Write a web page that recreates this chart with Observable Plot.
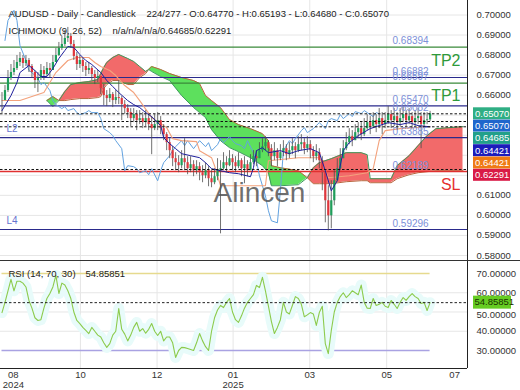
<!DOCTYPE html>
<html><head><meta charset="utf-8">
<script src="https://cdn.jsdelivr.net/npm/d3@7"></script>
<script src="https://cdn.jsdelivr.net/npm/@observablehq/plot@0.6"></script>
<style>
body{margin:0;background:#fff;}
#wrap{position:relative;width:520px;height:390px;overflow:hidden;background:#fff;}
#main{position:absolute;left:0;top:0;}
#rsi{position:absolute;left:0;top:260px;}
#sep{position:absolute;left:0;top:260px;width:520px;height:1px;background:#333;}
</style></head><body>
<div id="wrap"><div id="main"></div><div id="rsi"></div><div id="sep"></div></div>
<script>
// ---------------- DATA ----------------
const closes = [0.6573,0.6623,0.6683,0.6713,0.6733,0.6763,0.6783,0.6758,0.6773,0.6743,
0.6713,0.6673,0.6683,0.6723,0.6703,0.6733,0.6723,0.6763,0.6798,0.6833,
0.6853,0.6883,0.6893,0.6853,0.6793,0.6753,0.6773,0.6743,0.6723,0.6733,
0.6703,0.6683,0.6693,0.6633,0.6598,0.6583,0.6603,0.6573,0.6588,0.6583,
0.6553,0.6533,0.6513,0.6483,0.6503,0.6473,0.6483,0.6463,0.6483,0.6453,
0.6433,0.6453,0.6473,0.6433,0.6403,0.6363,0.6323,0.6283,0.6263,0.6248,
0.6283,0.6263,0.6233,0.6253,0.6223,0.6243,0.6213,0.6198,0.6223,0.6183,
0.6163,0.6193,0.6223,0.6233,0.6263,0.6248,0.6283,0.6263,0.6243,0.6273,
0.6233,0.6253,0.6223,0.6263,0.6293,0.6283,0.6323,0.6343,0.6363,0.6333,
0.6293,0.6323,0.6283,0.6313,0.6333,0.6303,0.6323,0.6343,0.6323,0.6353,
0.6363,0.6333,0.6353,0.6323,0.6293,0.6313,0.6273,0.6213,0.6073,0.5998,
0.6073,0.6173,0.6233,0.6283,0.6333,0.6363,0.6393,0.6373,0.6413,0.6433,
0.6403,0.6433,0.6463,0.6443,0.6473,0.6453,0.6483,0.6453,0.6473,0.6503,
0.6473,0.6493,0.6463,0.6483,0.6503,0.6473,0.6493,0.6463,0.6483,0.6493,
0.6453,0.6473,0.6477,0.65070];
const highs = [0.6613,0.6648,0.6723,0.6753,0.6773,0.6798,0.6813,0.6798,0.6798,0.6783,
0.6753,0.6723,0.6713,0.6753,0.6743,0.6763,0.6758,0.6798,0.6833,0.6863,
0.6893,0.6923,0.6938,0.6908,0.6873,0.6813,0.6798,0.6783,0.6763,0.6763,
0.6743,0.6723,0.6723,0.6693,0.6653,0.6623,0.6633,0.6613,0.6623,0.6673,
0.6593,0.6573,0.6553,0.6533,0.6533,0.6523,0.6523,0.6513,0.6523,0.6503,
0.6493,0.6503,0.6513,0.6493,0.6453,0.6413,0.6383,0.6343,0.6313,0.6298,
0.6323,0.6383,0.6293,0.6293,0.6273,0.6273,0.6263,0.6248,0.6263,0.6243,
0.6223,0.6233,0.6283,0.6273,0.6313,0.6293,0.6323,0.6303,0.6293,0.6313,
0.6283,0.6293,0.6273,0.6303,0.6323,0.6323,0.6363,0.6383,0.6393,0.6373,
0.6353,0.6363,0.6333,0.6353,0.6373,0.6353,0.6363,0.6383,0.6363,0.6393,
0.6403,0.6383,0.6393,0.6373,0.6343,0.6353,0.6333,0.6293,0.6223,0.6148,
0.6173,0.6223,0.6283,0.6333,0.6373,0.6413,0.6433,0.6423,0.6453,0.6463,
0.6463,0.6483,0.6503,0.6493,0.6513,0.6503,0.6533,0.6513,0.6513,0.6543,
0.6523,0.6533,0.6513,0.6533,0.6543,0.6523,0.6533,0.6513,0.6523,0.6533,
0.6513,0.6513,0.6513,0.65193];
const lows = [0.6508,0.6573,0.6613,0.6673,0.6698,0.6723,0.6743,0.6733,0.6743,0.6713,
0.6683,0.6633,0.6613,0.6673,0.6673,0.6693,0.6683,0.6723,0.6763,0.6793,
0.6823,0.6843,0.6863,0.6833,0.6773,0.6723,0.6733,0.6713,0.6693,0.6703,
0.6673,0.6653,0.6663,0.6603,0.6548,0.6543,0.6563,0.6538,0.6553,0.6553,
0.6473,0.6503,0.6483,0.6443,0.6463,0.6423,0.6453,0.6433,0.6443,0.6423,
0.6303,0.6423,0.6423,0.6403,0.6373,0.6323,0.6283,0.6243,0.6223,0.6213,
0.6233,0.6223,0.6203,0.6213,0.6193,0.6203,0.6173,0.6163,0.6183,0.6143,
0.6138,0.6153,0.6173,0.5908,0.6223,0.6213,0.6243,0.6223,0.6213,0.6233,
0.6193,0.6158,0.6193,0.6233,0.6253,0.6243,0.6283,0.6313,0.6323,0.6293,
0.6243,0.6273,0.6243,0.6273,0.6293,0.6273,0.6283,0.6303,0.6283,0.6313,
0.6323,0.6303,0.6313,0.6283,0.6263,0.6273,0.6233,0.6123,0.5963,0.5923,
0.5933,0.6048,0.6173,0.6223,0.6283,0.6323,0.6353,0.6343,0.6373,0.6383,
0.6373,0.6393,0.6423,0.6403,0.6433,0.6413,0.6433,0.6403,0.6433,0.6453,
0.6433,0.6443,0.6423,0.6443,0.6463,0.6443,0.6453,0.6433,0.6443,0.6453,
0.6333,0.6433,0.6453,0.64680];

// Ichimoku lines (bar index / value)
const tenkanBars = [0,3,5,6,9,11,13,15,17,19,21,22,24,26,28,30,33,35,37,39,42,44,46,48,50,53,54,56,58,60,63,66,68,70,73,76,79,83,84,85,87,89,93,96,99,103,106,108,110,112,114,116,119,123,126,129,133,136,139,143];
const tenkan = [0.6523,0.6598,0.6663,0.6713,0.6748,0.6723,0.6693,0.6693,0.6733,0.6783,0.6823,0.6843,0.6838,0.6803,0.6773,0.6753,0.6713,0.6673,0.6643,0.6613,0.6573,0.6553,0.6538,0.6513,0.6493,0.6448,0.6388,0.6358,0.6333,0.6308,0.6298,0.6288,0.6263,0.6233,0.6223,0.6213,0.6208,0.6193,0.6238,0.6323,0.6338,0.6313,0.6323,0.6308,0.6323,0.6333,0.6313,0.6223,0.6123,0.6173,0.6323,0.6363,0.6398,0.6433,0.6448,0.6463,0.6453,0.6463,0.6448,0.64421];
const kijunBars = [0,6,11,14,16,18,20,22,25,29,31,33,36,38,41,44,46,50,53,55,57,60,65,66,70,71,73,88,89,99,106,108,109,116,122,124,126,128,133,143];
const kijun = [0.6573,0.6573,0.6598,0.6613,0.6663,0.6713,0.6743,0.6773,0.6788,0.6788,0.6763,0.6743,0.6723,0.6698,0.6648,0.6613,0.6573,0.6488,0.6458,0.6438,0.6383,0.6373,0.6368,0.6323,0.6288,0.6248,0.6148,0.6148,0.6273,0.6288,0.6288,0.6223,0.6188,0.6198,0.6213,0.6233,0.6373,0.6423,0.6433,0.64421];
const chikouBars = [1,2,4,5,6,8,9,10,12,13,14,16,17,18,20,21,22,24,25,26,28,29,30,32,33,34,36,37,38,40,41,42,44,45,46,48,49,50,52,53,54,56,57,58,60,61,62,64,65,66,68,69,70,72,73,74,76,77,78,80,81,82,84,85,86,88,89,90,92,93,94,96,97,98,100,101,102,104,105,106,108,109,110,112,113,114,116,117,118,120,121,122,124,125,126];
const chikou = [0.6873,0.6973,0.7023,0.6973,0.6848,0.6773,0.6723,0.6713,0.6683,0.6653,0.6663,0.6623,0.6573,0.6553,0.6533,0.6543,0.6523,0.6533,0.6513,0.6503,0.6513,0.6523,0.6513,0.6513,0.6483,0.6433,0.6413,0.6398,0.6373,0.6333,0.6223,0.6248,0.6243,0.6233,0.6213,0.6223,0.6203,0.6233,0.6173,0.6223,0.6263,0.6298,0.6323,0.6343,0.6373,0.6348,0.6373,0.6333,0.6353,0.6373,0.6343,0.6363,0.6323,0.6353,0.6383,0.6363,0.6393,0.6373,0.6358,0.6348,0.6333,0.6373,0.6313,0.6273,0.6198,0.6098,0.6023,0.5973,0.5963,0.6123,0.6323,0.6373,0.6358,0.6383,0.6423,0.6438,0.6413,0.6433,0.6448,0.6463,0.6433,0.6473,0.6483,0.6473,0.6503,0.6483,0.6508,0.6493,0.6518,0.6508,0.6523,0.6513,0.6493,0.6513,0.65070];
const cloudBars = [15,17,19,21,23,26,29,32,33,34,35,37,39,42,44,46,48,49,50,53,56,60,64,66,68,70,73,76,79,83,87,89,90,93,99,102,104,106,110,115,120,122,123,130,132,136,139,142,145,154];
const spanA = [0.6573,0.6593,0.6573,0.6573,0.6578,0.6583,0.6583,0.6588,0.6593,0.6633,0.6653,0.6673,0.6673,0.6653,0.6653,0.6688,0.6708,0.6728,0.6743,0.6728,0.6708,0.6688,0.6673,0.6658,0.6598,0.6573,0.6538,0.6478,0.6453,0.6433,0.6408,0.6373,0.6248,0.6238,0.6223,0.6188,0.6158,0.6158,0.6158,0.6168,0.6173,0.6173,0.6163,0.6163,0.6183,0.6203,0.6213,0.6218,0.6223,0.6223];
const spanB = [0.6573,0.6543,0.6573,0.6618,0.6653,0.6663,0.6668,0.6678,0.6708,0.6738,0.6763,0.6788,0.6803,0.6783,0.6768,0.6743,0.6718,0.6728,0.6718,0.6693,0.6673,0.6598,0.6538,0.6513,0.6488,0.6428,0.6373,0.6338,0.6318,0.6288,0.6248,0.6213,0.6148,0.6148,0.6153,0.6188,0.6238,0.6263,0.6283,0.6313,0.6313,0.6303,0.6183,0.6183,0.6248,0.6298,0.6348,0.6398,0.6433,0.6443];

// Horizontal levels
const targetLevels = [0.68394, 0.66597];
const pivotLevels = [0.66882, 0.65470, 0.63885, 0.59296];
const stopLevels = [0.62189];
const currentLevels = [0.65070, 0.64685, 0.64421, 0.62291];
const levelLabelValues = [0.68394, 0.66882, 0.66597, 0.65470, 0.65082, 0.63885, 0.62189, 0.59296];
const tradeLabels = ["TP2", "TP1", "SL"];
const tradeLabelLevels = [0.66882, 0.65470, 0.62189];
const sideLabels = ["L2", "L4"];
const sideLabelLevels = [0.63885, 0.59296];
const axisBoxValues = [0.65070, 0.65070, 0.64685, 0.64421, 0.64421, 0.62291];

// RSI (per bar)
const rsiValues = [49.7,55,61,67,61,66,66,65,63,56,
52,47,45.6,46,52,57,59.6,63,69,59.6,
65,64,61,57,50,45.6,44,42,40.4,38.8,
42,40,38,37,34,31.6,33.6,38,40,51.8,
41,38.5,35,38,42,44.6,40,41.4,39,41,
44,40,37.8,40,35,37,37,34,26.4,30,
31.6,31.5,31,30.5,30,34,38.8,35,32,30,
40,47,51,53.4,52.3,55,57,50,46,44.6,
48,52,55,57,59,63.8,62.7,68,61,53,
45,38.8,42,46,55,50,49,53.4,58,57,
54,47.5,48.5,49.7,49,43,49.7,53,33.6,28.4,
40.4,50,55,58,60,57.5,59,61,60,59,
64,55,52,51.8,57,53.4,54,55,53,52.3,
56,54,51.8,55,57.5,56,58,59.6,58,57,
54.4,55,50.8,54.85851];
const rsiLevels = [70, 30];
const rsiTicks = [30, 40, 50, 60, 70];

// Axis ticks (price labels 0.62–0.65 are hidden behind the value boxes)
const priceGrid = [0.58,0.59,0.60,0.61,0.62,0.63,0.64,0.65,0.66,0.67,0.68,0.69,0.70];
const priceLabels = [0.58,0.59,0.60,0.61,0.66,0.67,0.68,0.69,0.70];
const monthTickBars = [3.8, 26.2, 51.8, 77.2, 102.8, 128.5, 151.2];
const monthLabels = ["08","10","12","01","03","05","07"];
const yearTickBars = [3.8, 77.2];
const yearLabels = ["2024","2025"];

const titleLine1 = ["AUDUSD - Daily - Candlestick", "224/277 - O:0.64770 - H:0.65193 - L:0.64680 - C:0.65070"];
const titleLine2 = ["ICHIMOKU (9, 26, 52)", "n/a/n/a/n/a/0.64685/0.62291"];
const rsiTitle = ["RSI (14, 70, 30)", "54.85851"];
const watermark = "Alincen";

// ---------------- BUILD ----------------
const FONT = '"Liberation Sans", Arial, Helvetica, sans-serif';
const bars = closes.map((c, i) => ({i, o: i ? closes[i - 1] : c, h: highs[i], l: lows[i], c}));
const pairs = (xs, vs) => xs.map((b, k) => ({b, v: vs[k]}));
const cloud = cloudBars.map((b, k) => ({b, a: spanA[k], s: spanB[k]}));
const xDomain = [-0.5, 155.5];
const lastBar = closes.length - 1;
const gridBars = monthTickBars.slice(1, -1);
const tradeOffsets = [-17, -10, 13];
const tradeColors = ["#2e9a3a", "#2e9a3a", "#e53030"];
const txt = (s, dx, dy, extra = {}) => Plot.text([s], {text: d => d, frameAnchor: "top-left", dx, dy,
  textAnchor: "start", lineAnchor: "middle", fill: "#222", fontSize: 9.5, ...extra});

const main = Plot.plot({
  width: 520, height: 260,
  marginLeft: 0, marginRight: 53, marginTop: 0, marginBottom: 0,
  style: {fontFamily: FONT, fontSize: "9.5px", background: "white", color: "#333"},
  x: {domain: xDomain, axis: null},
  y: {domain: [0.57749, 0.70724], axis: null},
  marks: [
    Plot.gridY(priceGrid, {stroke: "#e6e6e6", strokeOpacity: 1}),
    Plot.gridX(gridBars, {stroke: "#e6e6e6", strokeOpacity: 1}),
    Plot.axisY(priceLabels, {anchor: "right", tickSize: 0, tickPadding: 9, textAnchor: "start", label: null,
      tickFormat: d => d.toFixed(5), fontSize: 9.5, fill: "#333"}),
    Plot.areaY(cloud, {x: "b", y1: "s", y2: d => Math.max(d.a, d.s), fill: "#5de05d"}),
    Plot.areaY(cloud, {x: "b", y1: "a", y2: d => Math.max(d.a, d.s), fill: "#f26a6a"}),
    Plot.line(cloud, {x: "b", y: "a", stroke: "#b8643c", strokeWidth: 1}),
    Plot.line(cloud, {x: "b", y: "s", stroke: "#3c9a5c", strokeWidth: 1}),
    Plot.ruleY(targetLevels, {stroke: "#3a8a3a", strokeWidth: 1.2}),
    Plot.ruleY(pivotLevels, {stroke: "#2a2a8c", strokeWidth: 1.2}),
    Plot.ruleY(stopLevels, {stroke: "#e03030", strokeWidth: 1.4}),
    Plot.line(pairs(chikouBars, chikou), {x: "b", y: "v", stroke: "#62a2e0", strokeWidth: 1}),
    Plot.line(pairs(kijunBars, kijun), {x: "b", y: "v", stroke: "#f3a27c", strokeWidth: 1.1}),
    Plot.ruleX(bars, {x: "i", y1: "l", y2: "h", stroke: "#4d4d4d", strokeWidth: 0.8}),
    Plot.ruleX(bars, {x: "i", y1: "o", y2: "c", stroke: d => d.c >= d.o ? "#1f9e5a" : "#e0363c", strokeWidth: 2.2}),
    Plot.line(pairs(tenkanBars, tenkan), {x: "b", y: "v", stroke: "#1e1e9c", strokeWidth: 1}),
    Plot.ruleY(currentLevels, {stroke: "#111", strokeDasharray: "2.5,2", strokeWidth: 1}),
    Plot.text(levelLabelValues, {y: d => d, text: d => d.toFixed(5), frameAnchor: "right", dx: -75, dy: -6,
      textAnchor: "start", lineAnchor: "middle", fill: "#7c90d8", fontSize: 10}),
    ...tradeLabels.map((t, k) => Plot.text([t], {y: () => tradeLabelLevels[k], text: d => d, frameAnchor: "right",
      dx: -7, dy: tradeOffsets[k], textAnchor: "end", lineAnchor: "middle", fill: tradeColors[k], fontSize: 16})),
    Plot.text(sideLabels, {y: (d, k) => sideLabelLevels[k], text: d => d, frameAnchor: "left", dx: 6, dy: -9,
      textAnchor: "start", lineAnchor: "middle", fill: "#6473cf", fontSize: 10}),
    Plot.text([watermark], {text: d => d, frameAnchor: "top-left", dx: 259, dy: 193, textAnchor: "middle",
      lineAnchor: "middle", fill: "#555", fillOpacity: 0.85, fontSize: 28}),
    txt(titleLine1[0], 8, 13), txt(titleLine1[1], 146, 13),
    txt(titleLine2[0], 8, 30), txt(titleLine2[1], 112, 30),
    Plot.ruleX([xDomain[1]], {stroke: "#222", strokeWidth: 1})
  ]
});

// right-axis value boxes (stacked to avoid overlap)
{
  const ys = main.scale("y"), xr = 520 - 53;
  const boxColors = ["#2fae84", "#1f66cc", "#22a08a", "#1c1cbb", "#ef7a14", "#d91a46"];
  const g = d3.select(main).append("g").attr("font-family", FONT).attr("font-size", 9.5).attr("text-anchor", "start");
  let prev = -Infinity;
  axisBoxValues.forEach((v, k) => {
    const y = Math.max(ys.apply(v), prev + 12.3); prev = y;
    g.append("rect").attr("x", xr + 6).attr("y", y - 6).attr("width", 37).attr("height", 12).attr("fill", boxColors[k]);
    g.append("text").attr("x", xr + 8).attr("y", y).attr("dy", "0.35em").attr("text-anchor", "start").attr("fill", "#fff").text(v.toFixed(5));
  });
}
document.getElementById("main").appendChild(main);

// ---------------- RSI PANEL ----------------
const rsiData = rsiValues.map((v, i) => ({i, v}));
const rsiLast = rsiValues[rsiValues.length - 1];
const rsi = Plot.plot({
  width: 520, height: 130,
  marginLeft: 0, marginRight: 53, marginTop: 0, marginBottom: 22,
  style: {fontFamily: FONT, fontSize: "9.5px", background: "white", color: "#333"},
  x: {domain: xDomain, axis: null},
  y: {domain: [20.65, 76.75], axis: null},
  marks: [
    Plot.gridY([40, 50, 60], {stroke: "#e6e6e6", strokeOpacity: 1}),
    Plot.gridX(gridBars, {stroke: "#e6e6e6", strokeOpacity: 1}),
    Plot.axisY(rsiTicks.filter(t => t !== 50), {anchor: "right", tickSize: 0, tickPadding: 9, textAnchor: "start", label: null,
      tickFormat: d => d.toFixed(5), fontSize: 9.5, fill: "#333"}),
    Plot.axisY([50], {anchor: "right", tickSize: 0, tickPadding: 9, textAnchor: "start", label: null, dy: 3,
      tickFormat: d => d.toFixed(5), fontSize: 9.5, fill: "#333"}),
    Plot.ruleY([rsiLevels[0]], {x1: 0, x2: lastBar, stroke: "#e6da8e", strokeWidth: 1.6}),
    Plot.ruleY([rsiLevels[1]], {x1: 0, x2: lastBar, stroke: "#a9a2e2", strokeWidth: 1.6}),
    Plot.line(rsiData, {x: "i", y: "v", stroke: "#e8fbfa", strokeWidth: 11, strokeLinejoin: "round", strokeLinecap: "round"}),
    Plot.line(rsiData, {x: "i", y: "v", stroke: "#8ccb4c", strokeWidth: 1.1}),
    Plot.ruleY([rsiLast], {stroke: "#222", strokeDasharray: "2.5,2", strokeWidth: 1}),
    txt(rsiTitle[0], 8, 13), txt(rsiTitle[1], 85, 13),
    Plot.text(monthLabels, {x: (d, k) => monthTickBars[k], text: d => d, frameAnchor: "bottom", dy: 6, lineAnchor: "middle", fill: "#333", fontSize: 9.5}),
    Plot.text(yearLabels, {x: (d, k) => yearTickBars[k], text: d => d, frameAnchor: "bottom", dy: 16.5, lineAnchor: "middle", fill: "#333", fontSize: 9.5}),
    Plot.ruleY([20.65], {stroke: "#222", strokeWidth: 1}),
    Plot.ruleX([xDomain[1]], {stroke: "#222", strokeWidth: 1})
  ]
});
{
  const ys = rsi.scale("y"), xr = 520 - 53;
  const g = d3.select(rsi).append("g").attr("font-family", FONT).attr("font-size", 9.5).attr("text-anchor", "start");
  const y = ys.apply(rsiLast);
  g.append("rect").attr("x", xr + 6).attr("y", y - 6.5).attr("width", 38).attr("height", 13).attr("fill", "#66cc22");
  g.append("text").attr("x", xr + 7.5).attr("y", y).attr("dy", "0.35em").attr("text-anchor", "start").attr("fill", "#1a3300").text(rsiLast.toFixed(5));
}
document.getElementById("rsi").appendChild(rsi);
</script>
</body></html>
